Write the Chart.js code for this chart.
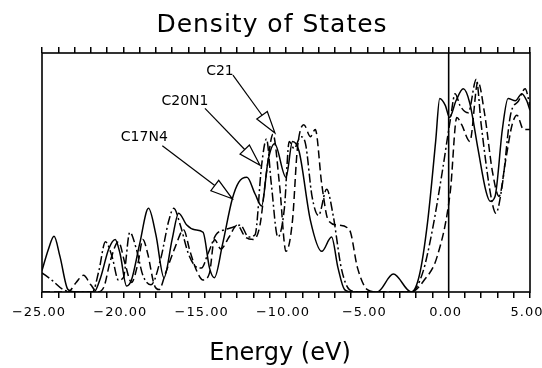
<!DOCTYPE html>
<html>
<head>
<meta charset="utf-8">
<script src="https://cdn.jsdelivr.net/npm/chart.js@4/dist/chart.umd.min.js"></script>
<style>
  body { margin: 0; background: #fff; }
  #wrap { width: 542px; height: 368px; }
</style>
</head>
<body>
<div id="wrap"><canvas id="dos" width="542" height="368"></canvas></div>
<script>
// energy axis (eV)
const energyMin = -25;
const energyMax = 5;
const energyLabels = [-25, -20, -15, -10, -5, 0, 5];
const fermiEnergy = 0;

// C17N4 - solid line
const c17n4Energy = [-25.0, -24.6, -24.26, -23.9, -23.4, -22.9, -21.8, -21.4, -20.9, -20.5, -20.2, -19.8, -19.5, -19.0, -18.45, -18.0, -17.5, -17.0, -16.6, -16.1, -15.6, -15.1, -14.7, -14.4, -13.9, -13.3, -12.9, -12.4, -11.9, -11.5, -11.1, -10.7, -10.0, -9.6, -9.2, -8.5, -7.8, -7.2, -6.8, -6.4, -5.9, -4.4, -3.4, -2.3, -1.8, -1.3, -0.8, -0.55, -0.2, 0.05, 0.45, 0.9, 1.3, 1.8, 2.3, 2.55, 2.85, 3.3, 3.65, 4.1, 4.5, 4.8, 5.0];
const c17n4Dos = [0.9, 1.8, 2.33, 1.5, 0.1, 0, 0, 0.6, 1.8, 2.2, 1.6, 0.25, 0.5, 2.0, 3.5, 2.4, 0.6, 2.2, 3.3, 2.8, 2.6, 2.5, 1.0, 0.6, 2.0, 3.9, 4.6, 4.8, 4.1, 3.6, 5.5, 6.2, 4.8, 6.3, 5.9, 3.0, 1.7, 2.3, 1.0, 0.1, 0, 0, 0.75, 0, 0.7, 2.9, 6.3, 8.1, 7.8, 7.3, 8.0, 8.5, 7.9, 6.0, 4.2, 3.8, 4.0, 6.8, 8.1, 8.0, 8.3, 8.0, 7.6];

// C20N1 - dash-dot line
const c20n1Energy = [-25.0, -24.4, -23.7, -23.2, -21.9, -21.5, -21.1, -20.7, -20.3, -20.0, -19.6, -19.2, -18.8, -18.3, -17.7, -17.2, -16.9, -16.5, -16.0, -15.6, -15.2, -14.8, -14.3, -13.8, -13.3, -12.8, -12.3, -11.9, -11.5, -11.2, -10.9, -10.5, -10.1, -9.8, -9.5, -9.1, -8.8, -8.4, -8.0, -7.5, -7.1, -6.6, -6.1, -5.5, -2.3, -1.6, -1.0, -0.4, 0.1, 0.4, 0.7, 1.2, 1.7, 2.0, 2.6, 2.9, 3.3, 3.8, 4.3, 4.7, 5.0];
const c20n1Dos = [0.8, 0.5, 0.1, 0, 0, 0.9, 2.1, 1.5, 0.5, 0.6, 2.5, 1.8, 0.7, 0.3, 1.4, 3.0, 3.5, 2.8, 1.6, 1.1, 1.0, 1.6, 2.4, 2.6, 2.7, 2.8, 2.3, 2.4, 5.3, 6.4, 4.5, 2.3, 3.5, 6.3, 6.0, 6.5, 6.2, 4.0, 3.2, 4.3, 3.2, 1.0, 0.1, 0, 0, 0.8, 2.6, 5.0, 7.2, 8.3, 7.8, 7.5, 8.9, 7.0, 4.0, 3.3, 4.5, 7.4, 8.0, 8.5, 7.8];

// C21 - dashed line
const c21Energy = [-25.0, -23.4, -22.9, -22.45, -22.0, -21.6, -21.2, -20.8, -20.3, -19.9, -19.5, -19.1, -18.8, -18.5, -18.1, -17.8, -17.4, -16.8, -16.3, -15.9, -15.5, -15.1, -14.7, -14.4, -14.0, -13.5, -13.0, -12.5, -12.0, -11.6, -11.2, -10.8, -10.4, -10.0, -9.6, -9.3, -8.9, -8.5, -8.2, -7.8, -7.4, -6.8, -6.1, -5.6, -5.0, -4.4, -2.3, -1.5, -0.7, 0.1, 0.5, 0.8, 1.3, 1.8, 2.2, 2.7, 3.1, 3.5, 3.9, 4.2, 4.6, 5.0];
const c21Dos = [0, 0, 0.4, 0.7, 0.3, 0, 0.2, 1.3, 2.1, 1.2, 0.4, 1.2, 2.2, 1.6, 0.3, 0.1, 0.8, 1.9, 2.6, 1.7, 0.9, 0.5, 0.8, 2.2, 1.8, 2.3, 2.8, 2.3, 2.2, 2.8, 5.0, 6.6, 4.5, 1.7, 3.0, 6.0, 7.0, 6.5, 6.8, 4.5, 3.0, 2.8, 2.6, 1.0, 0.1, 0, 0, 0.5, 1.5, 4.2, 7.3, 7.0, 6.3, 8.8, 7.5, 5.0, 4.0, 5.5, 7.0, 7.4, 6.8, 6.8];

// arrow labels and the point on the curve each arrow touches
const arrowNames = ['C17N4', 'C20N1', 'C21'];
const arrowEnergy = [-13.3, -11.6, -10.68];
const arrowDos = [3.9, 5.3, 6.65];

function toPoints(xs, ys) {
  return xs.map((x, i) => ({ x: x, y: ys[i] }));
}

function fmtEnergy(v) {
  return (v < 0 ? '\u2212' : '') + Math.abs(v).toFixed(2);
}

const FONT = '"DejaVu Sans", sans-serif';

// label offsets (px) from the arrow tip: text centre, and where the shaft starts
const labelOffsets = [
  { tx: -88, ty: -61, sx: -70, sy: -53 },
  { tx: -75, ty: -64, sx: -55, sy: -57 },
  { tx: -55, ty: -62, sx: -42, sy: -58 }
];

const decorPlugin = {
  id: 'decor',
  beforeDraw(chart) {
    const ctx = chart.ctx;
    ctx.save();
    ctx.fillStyle = '#fff';
    ctx.fillRect(0, 0, chart.width, chart.height);
    ctx.restore();
  },
  afterDatasetsDraw(chart) {
    const ctx = chart.ctx;
    const area = chart.chartArea;
    const xs = chart.scales.x;
    const ys = chart.scales.y;
    ctx.save();
    ctx.strokeStyle = '#000';
    ctx.lineWidth = 1.6;
    ctx.strokeRect(area.left, area.top, area.right - area.left, area.bottom - area.top);
    // fermi level
    const xf = xs.getPixelForValue(fermiEnergy);
    ctx.beginPath();
    ctx.moveTo(xf, area.top);
    ctx.lineTo(xf, area.bottom);
    ctx.stroke();

    // arrows with hollow heads
    ctx.lineWidth = 1.2;
    ctx.font = '14px ' + FONT;
    ctx.textAlign = 'center';
    ctx.textBaseline = 'middle';
    ctx.fillStyle = '#000';
    arrowNames.forEach((name, i) => {
      const px = xs.getPixelForValue(arrowEnergy[i]);
      const py = ys.getPixelForValue(arrowDos[i]);
      const o = labelOffsets[i];
      ctx.fillText(name, px + o.tx, py + o.ty);
      const sx = px + o.sx, sy = py + o.sy;
      const dx = px - sx, dy = py - sy;
      const len = Math.hypot(dx, dy);
      const ux = dx / len, uy = dy / len;
      const headLen = 22, headW = 6.5;
      const bx = px - ux * headLen, by = py - uy * headLen;
      ctx.beginPath();
      ctx.moveTo(sx, sy);
      ctx.lineTo(bx, by);
      ctx.stroke();
      ctx.beginPath();
      ctx.moveTo(px, py);
      ctx.lineTo(bx - uy * headW, by + ux * headW);
      ctx.lineTo(bx + uy * headW, by - ux * headW);
      ctx.closePath();
      ctx.fillStyle = '#fff';
      ctx.fill();
      ctx.stroke();
      ctx.fillStyle = '#000';
    });
    ctx.restore();
  },
  afterDraw(chart) {
    const ctx = chart.ctx;
    const xs = chart.scales.x;
    ctx.save();
    ctx.fillStyle = '#000';
    ctx.textAlign = 'center';
    // tick labels, spaced like the plotter lettering
    ctx.textBaseline = 'middle';
    ctx.font = '13px ' + FONT;
    ctx.letterSpacing = '1px';
    energyLabels.forEach(v => {
      ctx.fillText(fmtEnergy(v), xs.getPixelForValue(v) - 3, 313);
    });
    ctx.textBaseline = 'alphabetic';
    ctx.font = '25px ' + FONT;
    ctx.letterSpacing = '1px';
    ctx.fillText('Density of States', 272, 32);
    ctx.letterSpacing = '0px';
    ctx.font = '24px ' + FONT;
    ctx.fillText('Energy (eV)', 280, 360);
    ctx.restore();
  }
};

function fixBottom(scale) {
  scale.height = 76;
  scale.paddingLeft = 0;
  scale.paddingRight = 0;
}
function fixTop(scale) {
  scale.height = 53;
  scale.paddingLeft = 0;
  scale.paddingRight = 0;
}

const lineStyle = {
  borderColor: '#000',
  borderWidth: 1.5,
  pointRadius: 0,
  showLine: true,
  fill: false,
  cubicInterpolationMode: 'monotone'
};

new Chart(document.getElementById('dos'), {
  type: 'scatter',
  data: {
    datasets: [
      Object.assign({ label: 'C17N4', data: toPoints(c17n4Energy, c17n4Dos), borderDash: [] }, lineStyle),
      Object.assign({ label: 'C20N1', data: toPoints(c20n1Energy, c20n1Dos), borderDash: [9, 3, 2, 3] }, lineStyle),
      Object.assign({ label: 'C21', data: toPoints(c21Energy, c21Dos), borderDash: [8, 4] }, lineStyle)
    ]
  },
  options: {
    responsive: false,
    animation: false,
    devicePixelRatio: 1,
    layout: { padding: { left: 42, right: 12, top: 0, bottom: 0 } },
    plugins: { legend: { display: false }, tooltip: { enabled: false }, title: { display: false } },
    scales: {
      x: {
        type: 'linear',
        position: 'bottom',
        min: energyMin,
        max: energyMax,
        afterFit: fixBottom,
        border: { display: false },
        grid: { drawOnChartArea: false, drawTicks: true, tickLength: 6, color: '#000', lineWidth: 1.5 },
        ticks: { stepSize: 1, autoSkip: false, maxRotation: 0, callback: () => '' }
      },
      x2: {
        type: 'linear',
        position: 'top',
        min: energyMin,
        max: energyMax,
        afterFit: fixTop,
        border: { display: false },
        grid: { drawOnChartArea: false, drawTicks: true, tickLength: 6, color: '#000', lineWidth: 1.5 },
        ticks: { stepSize: 1, autoSkip: false, maxRotation: 0, callback: () => '' }
      },
      y: {
        display: false,
        min: 0,
        max: 10
      }
    }
  },
  plugins: [decorPlugin]
});
</script>
</body>
</html>
